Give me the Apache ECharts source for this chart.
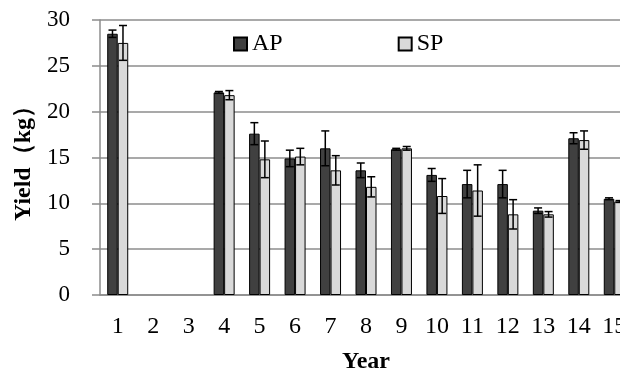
<!DOCTYPE html>
<html>
<head>
<meta charset="utf-8">
<script src="https://cdn.jsdelivr.net/npm/echarts@6/dist/echarts.min.js"></script>
<style>html,body{margin:0;padding:0;background:#fff;}#c{width:620px;height:374px;}</style>
</head>
<body>
<div id="c"></div>
<script>
var years = ['1','2','3','4','5','6','7','8','9','10','11','12','13','14','15'];
var apMean = [28.5, null, null, 22.1, 17.6, 14.9, 16.0, 13.6, 15.9, 13.1, 12.1, 12.1, 9.2, 17.1, 10.5];
var apErr  = [0.4, null, null, 0.1, 1.2, 0.9, 1.9, 0.8, 0.1, 0.7, 1.5, 1.5, 0.3, 0.6, 0.1];
var spMean = [27.5, null, null, 21.8, 14.8, 15.1, 13.6, 11.8, 16.0, 10.8, 11.4, 8.8, 8.8, 16.9, 10.2];
var spErr  = [1.9, null, null, 0.5, 2.0, 0.9, 1.6, 1.1, 0.2, 1.9, 2.8, 1.6, 0.3, 1.0, 0.1];
var yTicks = [0, 5, 10, 15, 20, 25, 30];

var BAR_W = 10.5;
var FONT = '"Liberation Serif", "Times New Roman", serif';

function errData(mean, err) {
  var out = [];
  for (var i = 0; i < mean.length; i++) {
    if (mean[i] != null) out.push([i, mean[i], err[i]]);
  }
  return out;
}
function errRender(offset) {
  return function (params, api) {
    var i = api.value(0), m = api.value(1), e = api.value(2);
    var hi = api.coord([i, m + e]);
    var lo = api.coord([i, m - e]);
    var x = hi[0] + offset;
    var cap = 4;
    var st = {stroke: '#000', lineWidth: 1.5};
    return {
      type: 'group',
      children: [
        {type: 'line', shape: {x1: x, y1: hi[1], x2: x, y2: lo[1]}, style: st},
        {type: 'line', shape: {x1: x - cap, y1: hi[1], x2: x + cap, y2: hi[1]}, style: st},
        {type: 'line', shape: {x1: x - cap, y1: lo[1], x2: x + cap, y2: lo[1]}, style: st}
      ]
    };
  };
}

var chart = echarts.init(document.getElementById('c'), null, {renderer: 'canvas'});
chart.setOption({
  animation: false,
  backgroundColor: '#fff',
  textStyle: {fontFamily: FONT},
  grid: {left: 100, top: 20, width: 532, height: 275, containLabel: false, outerBoundsMode: 'none'},
  legend: {
    left: 233, top: 32, padding: 0,
    itemWidth: 13, itemHeight: 13, itemGap: 115,
    icon: 'rect',
    textStyle: {fontFamily: FONT, fontSize: 24, color: '#000'},
    data: ['AP', 'SP']
  },
  xAxis: {
    type: 'category',
    data: years,
    name: 'Year',
    nameLocation: 'middle',
    nameGap: 55,
    nameTextStyle: {fontFamily: FONT, fontSize: 24, fontWeight: 'bold', color: '#000'},
    axisLine: {lineStyle: {color: '#8c8c8c', width: 1.5}},
    axisTick: {show: false},
    axisLabel: {fontFamily: FONT, fontSize: 24, color: '#000', margin: 20}
  },
  yAxis: {
    type: 'value',
    min: yTicks[0], max: yTicks[yTicks.length - 1], interval: 5,
    name: 'Yield（kg）',
    nameLocation: 'middle',
    nameGap: 54,
    nameRotate: 90,
    nameTextStyle: {fontFamily: FONT, fontSize: 24, fontWeight: 'bold', color: '#000'},
    axisLine: {show: true, lineStyle: {color: '#8c8c8c', width: 1.5}},
    axisTick: {show: true, length: 8, lineStyle: {color: '#8c8c8c', width: 1.5}},
    splitLine: {lineStyle: {color: '#8c8c8c', width: 1.5}},
    axisLabel: {fontFamily: FONT, fontSize: 23, color: '#000', margin: 30}
  },
  series: [
    {
      name: 'AP', type: 'bar', data: apMean, barWidth: BAR_W, barGap: '0%',
      itemStyle: {color: '#404040', borderColor: '#000', borderWidth: 1}
    },
    {
      name: 'SP', type: 'bar', data: spMean, barWidth: BAR_W, barGap: '0%',
      itemStyle: {color: '#d9d9d9', borderColor: '#000', borderWidth: 1}
    },
    {
      type: 'custom', name: 'AP err', data: errData(apMean, apErr),
      renderItem: errRender(-BAR_W / 2), z: 10, silent: true,
      encode: {x: 0, y: 1}
    },
    {
      type: 'custom', name: 'SP err', data: errData(spMean, spErr),
      renderItem: errRender(BAR_W / 2), z: 10, silent: true,
      encode: {x: 0, y: 1}
    }
  ]
});
</script>
</body>
</html>
